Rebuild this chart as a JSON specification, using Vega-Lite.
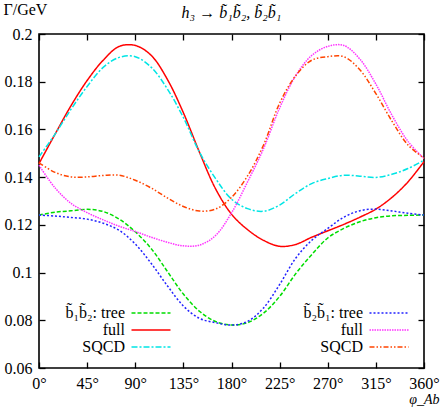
{
  "$schema": "https://vega.github.io/schema/vega-lite/v6.json",
  "width": 385,
  "height": 334,
  "autosize": {"type": "none"},
  "padding": {"left": 39, "top": 34, "right": 17, "bottom": 41},
  "background": "white",
  "title": {"text": "h₃ → b̃₁b̃₂, b̃₂b̃₁", "font": "Liberation Serif", "fontSize": 16, "fontStyle": "italic", "fontWeight": "normal", "anchor": "middle", "frame": "group", "offset": -20, "color": "black"},
  "config": {
    "view": {"stroke": "black", "strokeWidth": 1.6},
    "axis": {"labelFont": "Liberation Serif", "labelFontSize": 16, "labelColor": "black", "tickColor": "black", "tickSize": -6, "tickWidth": 1.3, "labelPadding": 13, "domain": false, "grid": false, "titleFont": "Liberation Serif", "titleFontWeight": "normal", "titleColor": "black"},
    "legend": {"title": null, "orient": "none", "symbolType": "M-3,0H3", "symbolSize": 169, "symbolStrokeWidth": 1.5, "labelAlign": "right", "labelOffset": -34, "labelFont": "Liberation Serif", "labelFontSize": 16, "labelColor": "black", "rowPadding": 1, "padding": 0, "labelLimit": 200}
  },
  "data": {"values": [
    {"phi": 0, "t12": 0.1241, "f12": 0.1457, "q12": 0.1485, "t21": 0.1241, "f21": 0.145, "q21": 0.146},
    {"phi": 15, "t12": 0.1253, "f12": 0.158, "q12": 0.158, "t21": 0.1237, "f21": 0.1355, "q21": 0.142},
    {"phi": 30, "t12": 0.1259, "f12": 0.17, "q12": 0.1685, "t21": 0.1231, "f21": 0.129, "q21": 0.1401},
    {"phi": 45, "t12": 0.1265, "f12": 0.1805, "q12": 0.178, "t21": 0.1224, "f21": 0.1251, "q21": 0.1401},
    {"phi": 60, "t12": 0.1256, "f12": 0.189, "q12": 0.186, "t21": 0.1207, "f21": 0.1221, "q21": 0.1407},
    {"phi": 75, "t12": 0.1224, "f12": 0.1948, "q12": 0.1902, "t21": 0.1177, "f21": 0.1194, "q21": 0.1408},
    {"phi": 90, "t12": 0.1171, "f12": 0.1952, "q12": 0.1905, "t21": 0.112, "f21": 0.1172, "q21": 0.1387},
    {"phi": 105, "t12": 0.11, "f12": 0.191, "q12": 0.186, "t21": 0.1038, "f21": 0.1148, "q21": 0.1354},
    {"phi": 120, "t12": 0.1005, "f12": 0.181, "q12": 0.177, "t21": 0.0945, "f21": 0.1127, "q21": 0.1313},
    {"phi": 135, "t12": 0.091, "f12": 0.167, "q12": 0.165, "t21": 0.086, "f21": 0.1112, "q21": 0.1277},
    {"phi": 150, "t12": 0.0838, "f12": 0.1505, "q12": 0.1505, "t21": 0.0808, "f21": 0.1115, "q21": 0.1258},
    {"phi": 165, "t12": 0.0795, "f12": 0.1352, "q12": 0.1395, "t21": 0.079, "f21": 0.1155, "q21": 0.1266},
    {"phi": 180, "t12": 0.078, "f12": 0.1245, "q12": 0.1308, "t21": 0.078, "f21": 0.125, "q21": 0.1315},
    {"phi": 195, "t12": 0.079, "f12": 0.118, "q12": 0.1268, "t21": 0.0795, "f21": 0.138, "q21": 0.1405},
    {"phi": 210, "t12": 0.083, "f12": 0.1135, "q12": 0.1257, "t21": 0.0852, "f21": 0.152, "q21": 0.1535},
    {"phi": 225, "t12": 0.09, "f12": 0.111, "q12": 0.1283, "t21": 0.095, "f21": 0.169, "q21": 0.171},
    {"phi": 240, "t12": 0.0995, "f12": 0.1118, "q12": 0.1332, "t21": 0.106, "f21": 0.1825, "q21": 0.1825},
    {"phi": 255, "t12": 0.1075, "f12": 0.1148, "q12": 0.1373, "t21": 0.1135, "f21": 0.191, "q21": 0.189},
    {"phi": 270, "t12": 0.1145, "f12": 0.1175, "q12": 0.1394, "t21": 0.1185, "f21": 0.1948, "q21": 0.1905},
    {"phi": 285, "t12": 0.1185, "f12": 0.1202, "q12": 0.1408, "t21": 0.1232, "f21": 0.1952, "q21": 0.1905},
    {"phi": 300, "t12": 0.1213, "f12": 0.1232, "q12": 0.1404, "t21": 0.1259, "f21": 0.1895, "q21": 0.185},
    {"phi": 315, "t12": 0.123, "f12": 0.1266, "q12": 0.1399, "t21": 0.1266, "f21": 0.179, "q21": 0.175},
    {"phi": 330, "t12": 0.1238, "f12": 0.1315, "q12": 0.1412, "t21": 0.1258, "f21": 0.166, "q21": 0.1635},
    {"phi": 345, "t12": 0.124, "f12": 0.138, "q12": 0.1436, "t21": 0.1249, "f21": 0.155, "q21": 0.1535},
    {"phi": 360, "t12": 0.1241, "f12": 0.1465, "q12": 0.1471, "t21": 0.1241, "f21": 0.1478, "q21": 0.148}
  ]},
  "layer": [
    {
      "transform": [{"fold": ["t12", "f12", "q12"], "as": ["s", "G"]}],
      "mark": {"type": "line", "interpolate": "catmull-rom", "strokeWidth": 1.5},
      "encoding": {
        "x": {"field": "phi", "type": "quantitative", "scale": {"domain": [0, 360], "nice": false, "zero": false},
              "axis": {"values": [0, 45, 90, 135, 180, 225, 270, 315, 360], "labelExpr": "datum.value + '°'", "labelFlush": false, "title": "φ_Ab", "titleFontSize": 14, "titleFontStyle": "italic", "titleAlign": "right", "titleBaseline": "alphabetic", "titleAnchor": "start", "titleX": 400, "titleY": 35}},
        "y": {"field": "G", "type": "quantitative", "scale": {"domain": [0.06, 0.2], "nice": false, "zero": false},
              "axis": {"values": [0.06, 0.08, 0.1, 0.12, 0.14, 0.16, 0.18, 0.2], "format": ".2~f", "labelFlush": false, "title": "Γ/GeV", "titleFontSize": 16, "titleAngle": 0, "titleAlign": "left", "titleBaseline": "alphabetic", "titleAnchor": "start", "titleX": -36, "titleY": -20}},
        "color": {"field": "s", "type": "nominal", "scale": {"domain": ["t12", "f12", "q12"], "range": ["#00dd00", "#ff0000", "#00e5e5"]},
                  "legend": {"legendX": 104, "legendY": 271, "labelExpr": "datum.label == 't12' ? 'b̃₁b̃₂:  tree' : datum.label == 'f12' ? 'full' : 'SQCD'"}},
        "strokeDash": {"field": "s", "type": "nominal", "scale": {"domain": ["t12", "f12", "q12"], "range": [[4, 2], [1, 0], [6, 2, 2, 2]]}}
      }
    },
    {
      "transform": [{"fold": ["t21", "f21", "q21"], "as": ["s", "G"]}],
      "mark": {"type": "line", "interpolate": "catmull-rom", "strokeWidth": 1.5},
      "encoding": {
        "x": {"field": "phi", "type": "quantitative", "scale": {"domain": [0, 360], "nice": false, "zero": false}, "axis": null},
        "y": {"field": "G", "type": "quantitative", "scale": {"domain": [0.06, 0.2], "nice": false, "zero": false}, "axis": null},
        "color": {"field": "s", "type": "nominal", "scale": {"domain": ["t21", "f21", "q21"], "range": ["#2222ff", "#ff33ff", "#ff4400"]},
                  "legend": {"legendX": 342, "legendY": 271, "labelExpr": "datum.label == 't21' ? 'b̃₂b̃₁:  tree' : datum.label == 'f21' ? 'full' : 'SQCD'"}},
        "strokeDash": {"field": "s", "type": "nominal", "scale": {"domain": ["t21", "f21", "q21"], "range": [[2, 2], [1.5, 1], [5, 2, 1.5, 2, 1.5, 2]]}}
      }
    },
    {
      "mark": {"type": "line", "opacity": 0},
      "encoding": {
        "x": {"field": "phi", "type": "quantitative", "scale": {"domain": [0, 360], "nice": false, "zero": false},
              "axis": {"orient": "top", "values": [0, 45, 90, 135, 180, 225, 270, 315, 360], "labels": false, "title": null}},
        "y": {"field": "f12", "type": "quantitative", "scale": {"domain": [0.06, 0.2], "nice": false, "zero": false},
              "axis": {"orient": "right", "values": [0.06, 0.08, 0.1, 0.12, 0.14, 0.16, 0.18, 0.2], "labels": false, "title": null}}
      }
    }
  ],
  "resolve": {"scale": {"color": "independent", "strokeDash": "independent"}, "axis": {"x": "independent", "y": "independent"}}
}
